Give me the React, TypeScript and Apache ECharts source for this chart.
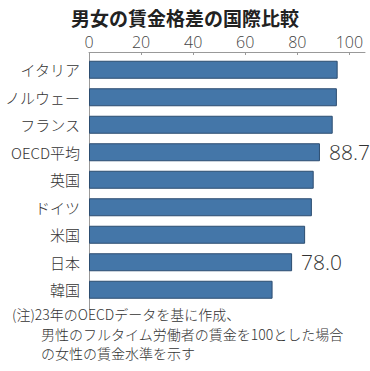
import React, { useEffect, useRef } from "react";
import * as echarts from "echarts";

const categories = ["イタリア", "ノルウェー", "フランス", "OECD平均", "英国", "ドイツ", "米国", "日本", "韓国"];
const values = [95.5, 95.2, 93.6, 88.7, 86.3, 85.6, 83.0, 78.0, 70.5];
const labeled = ["OECD平均", "日本"];
const xTicks = [0, 20, 40, 60, 80, 100];
const title = "男女の賃金格差の国際比較";
const notes = [
  "(注)23年のOECDデータを基に作成、",
  "男性のフルタイム労働者の賃金を100とした場合",
  "の女性の賃金水準を示す",
];

export default function App() {
  const ref = useRef<HTMLDivElement>(null);
  useEffect(() => {
    if (!ref.current) return;
    const chart = echarts.init(ref.current, null, { renderer: "svg" });
    const font = "'Noto Sans CJK JP', 'Noto Sans', sans-serif";
    const numFont = "'Liberation Sans Narrow', 'Open Sans', 'Noto Sans', sans-serif";
    chart.setOption({
      animation: false,
      backgroundColor: "#ffffff",
      textStyle: { fontFamily: font },
      title: {
        text: title,
        left: "center",
        top: 3,
        textStyle: { fontSize: 19, fontWeight: "bold", color: "#222", fontFamily: font },
      },
      grid: { left: 89, right: 370 - 365, top: 56, height: 247.5 },
      xAxis: {
        type: "value",
        position: "top",
        offset: 4,
        min: 0,
        max: 106,
        interval: 20,
        splitLine: { show: false },
        axisLine: { show: true, lineStyle: { color: "#999", width: 1 } },
        axisTick: { show: true, inside: true, length: 3, customValues: xTicks, lineStyle: { color: "#999" } },
        axisLabel: {
          customValues: xTicks,
          color: "#444",
          fontSize: 16,
          fontWeight: 300,
          margin: 2,
          fontFamily: numFont,
        },
      },
      yAxis: {
        type: "category",
        inverse: true,
        data: categories,
        axisLine: { show: false },
        axisTick: { show: false },
        axisLabel: { color: "#333", fontSize: 15, fontWeight: 300, margin: 9, fontFamily: font },
      },
      graphic: [
        {
          type: "line",
          shape: { x1: 89.5, y1: 52, x2: 89.5, y2: 310 },
          style: { stroke: "#999", lineWidth: 1 },
        },
        ...notes.map((t, i) => ({
          type: "text",
          left: i === 0 ? 12 : 41,
          top: 307 + i * 19.5,
          style: { text: t, fontSize: 14, fontWeight: 300, fill: "#333", fontFamily: font },
        })),
      ],
      series: [
        {
          type: "bar",
          barWidth: 18,
          data: values.map((v, i) => ({
            value: v,
            label: {
              show: labeled.includes(categories[i]),
              position: "right",
              distance: 9,
              formatter: (p: any) => Number(p.value).toFixed(1),
              fontSize: 21,
              fontWeight: 300,
              color: "#333",
              fontFamily: numFont,
            },
          })),
          itemStyle: { color: "#4476a8", borderColor: "#2c4d70", borderWidth: 1 },
        },
      ],
    });
    return () => chart.dispose();
  }, []);
  return (
    <div
      ref={ref}
      style={{ position: "fixed", left: 0, top: 0, width: 370, height: 371 }}
    />
  );
}
